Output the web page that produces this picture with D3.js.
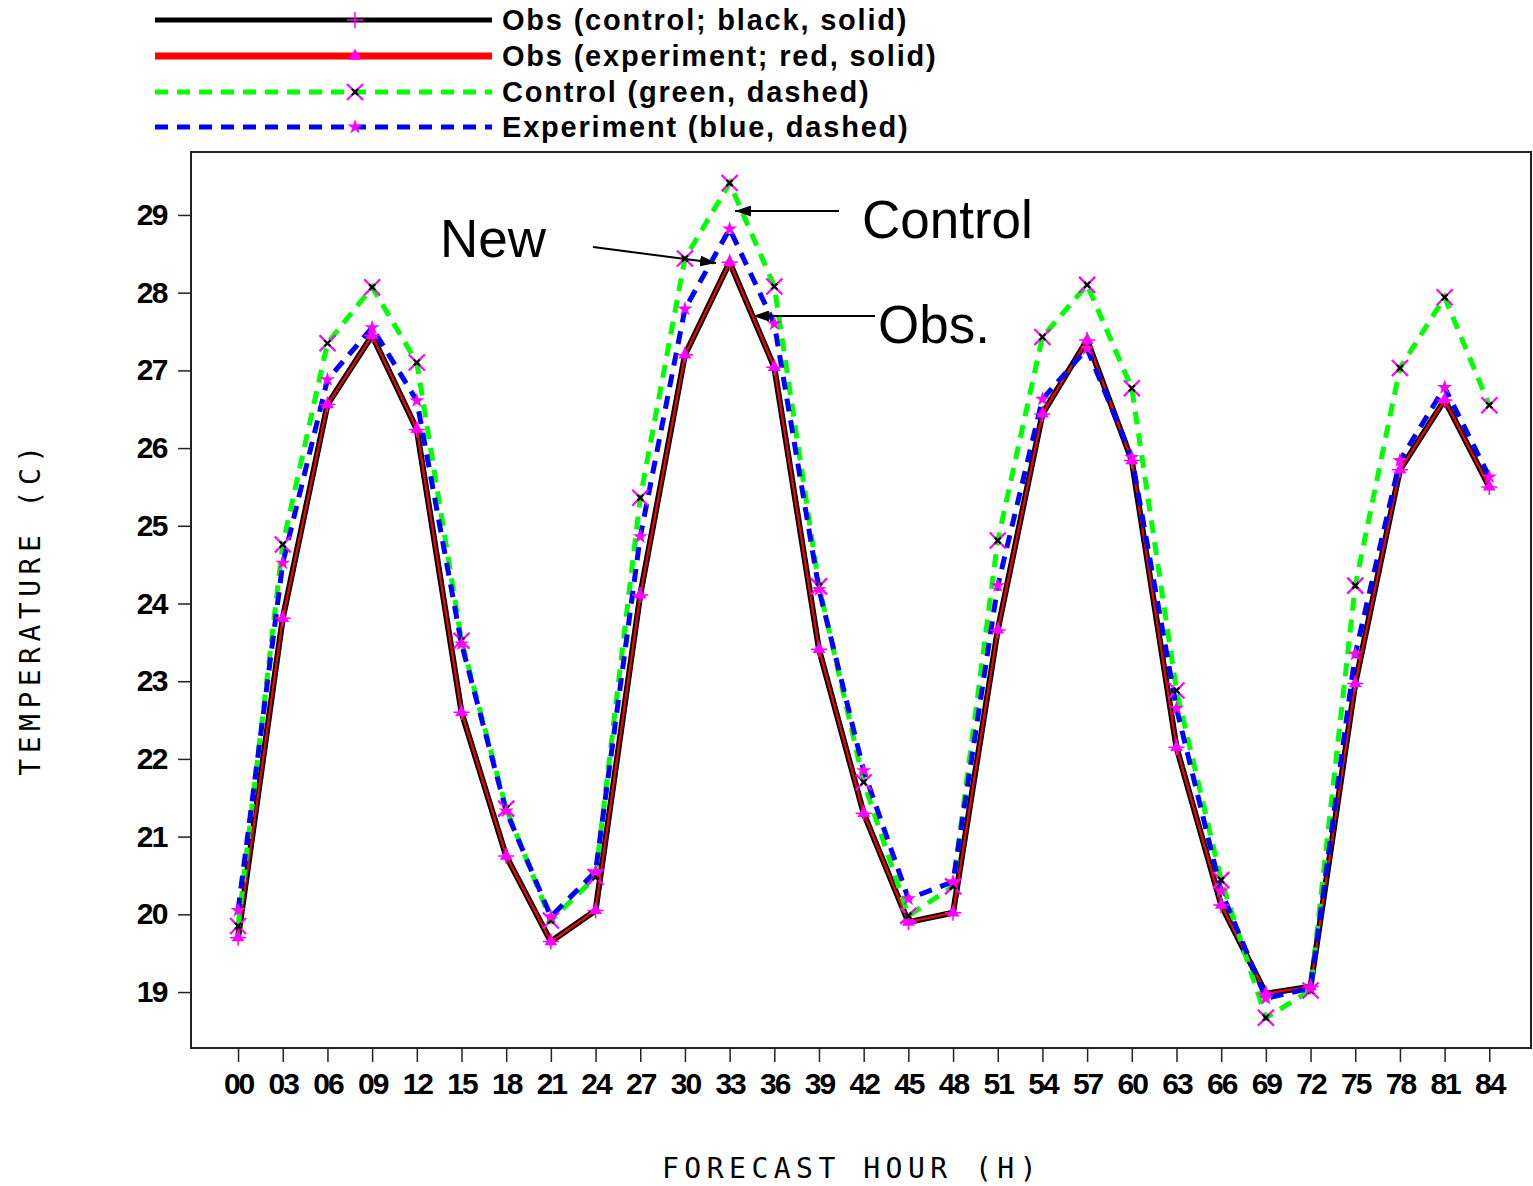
<!DOCTYPE html>
<html>
<head>
<meta charset="utf-8">
<script src="https://cdn.jsdelivr.net/npm/d3@7"></script>
<style>
  body { margin: 0; background: #fff; }
  svg { display: block; }
</style>
</head>
<body>
<svg id="chart" width="1533" height="1186"></svg>
<script>
// forecast hours (x) and temperatures (C) for each series
const hours = [0,3,6,9,12,15,18,21,24,27,30,33,36,39,42,45,48,51,54,57,60,63,66,69,72,75,78,81,84];
const obsControl = [19.70,23.81,26.56,27.45,26.24,22.60,20.75,19.65,20.05,24.11,27.20,28.39,27.04,23.41,21.30,19.90,20.02,23.66,26.44,27.39,25.84,22.15,20.12,18.98,19.07,22.97,25.72,26.62,25.50];
const obsExperiment = [19.70,23.81,26.56,27.45,26.24,22.60,20.75,19.65,20.05,24.11,27.20,28.39,27.04,23.41,21.30,19.90,20.02,23.66,26.44,27.39,25.84,22.15,20.12,18.98,19.07,22.97,25.72,26.62,25.50];
const control = [19.85,24.76,27.35,28.07,27.10,23.52,21.36,19.92,20.48,25.36,28.44,29.41,28.08,24.22,21.70,19.98,20.36,24.81,27.43,28.10,26.77,22.88,20.44,18.67,19.02,24.23,27.03,27.94,26.55];
const experiment = [20.05,24.52,26.88,27.55,26.61,23.48,21.33,19.97,20.55,24.86,27.79,28.82,27.60,24.18,21.85,20.20,20.42,24.23,26.63,27.28,25.88,22.65,20.30,18.92,19.05,23.35,25.84,26.78,25.63];
const yTicks = [19,20,21,22,23,24,25,26,27,28,29];
const legendLabels = ["Obs (control; black, solid)", "Obs (experiment; red, solid)", "Control (green, dashed)", "Experiment (blue, dashed)"];

const svg = d3.select("#chart");
const plotL = 191, plotR = 1531, plotT = 152, plotB = 1048;

const x = d3.scaleLinear().domain([-3.16, 86.8]).range([plotL, plotR]);
const y = d3.scaleLinear().domain([18.28, 29.81]).range([plotB, plotT]);

// frame
svg.append("rect")
  .attr("x", plotL).attr("y", plotT)
  .attr("width", plotR - plotL).attr("height", plotB - plotT)
  .attr("fill", "none").attr("stroke", "#222").attr("stroke-width", 2);

// y axis
const gy = svg.append("g").attr("transform", "translate(" + plotL + ",0)")
  .call(d3.axisLeft(y).tickValues(yTicks).tickSize(13).tickPadding(11).tickFormat(d3.format("d")));
gy.select(".domain").remove();
gy.selectAll("line").attr("stroke", "#222").attr("stroke-width", 1.5);
gy.selectAll("text")
  .attr("font-family", "Liberation Sans, Arial, sans-serif")
  .attr("font-weight", "bold").attr("font-size", 30)
  .attr("letter-spacing", -1.5).attr("fill", "#000");

// x axis
const gx = svg.append("g").attr("transform", "translate(0," + plotB + ")")
  .call(d3.axisBottom(x).tickValues(hours).tickSize(14).tickPadding(11).tickFormat(d3.format("02d")));
gx.select(".domain").remove();
gx.selectAll("line").attr("stroke", "#222").attr("stroke-width", 1.5);
gx.selectAll("text")
  .attr("font-family", "Liberation Sans, Arial, sans-serif")
  .attr("font-weight", "bold").attr("font-size", 30)
  .attr("letter-spacing", -2).attr("fill", "#000");

// axis titles
svg.append("text")
  .attr("x", 852).attr("y", 1178)
  .attr("text-anchor", "middle")
  .attr("font-family", "DejaVu Sans Mono, monospace")
  .attr("font-size", 28).attr("letter-spacing", 5.5)
  .text("FORECAST HOUR (H)");

svg.append("text")
  .attr("transform", "translate(40,608) rotate(-90)")
  .attr("text-anchor", "middle")
  .attr("font-family", "DejaVu Sans Mono, monospace")
  .attr("font-size", 28).attr("letter-spacing", 5.5)
  .text("TEMPERATURE (C)");

// markers
const magenta = "#ff00ff";
function marker(g, kind, cx, cy) {
  const m = g.append("g").attr("transform", "translate(" + cx + "," + cy + ")");
  if (kind === "plus") {
    m.append("path").attr("d", "M0,-8V8M-8,0H8").attr("stroke", magenta).attr("stroke-width", 1.5);
  } else if (kind === "tri") {
    m.append("path").attr("d", d3.symbol(d3.symbolTriangle, 70)()).attr("fill", magenta);
  } else if (kind === "cross") {
    m.append("path").attr("d", "M-8,-8L8,8M-8,8L8,-8").attr("stroke", magenta).attr("stroke-width", 2.2);
    m.append("path").attr("d", "M-3,-3L3,3M-3,3L3,-3").attr("stroke", "#000").attr("stroke-width", 2.2);
  } else if (kind === "star") {
    m.append("path").attr("d", d3.symbol(d3.symbolStar, 70)()).attr("fill", magenta);
  }
}

const series = [
  { values: obsControl, color: "#000", width: 6, dash: null, mk: "plus" },
  { values: obsExperiment, color: "#ff0000", width: 2.2, dash: null, mk: "tri" },
  { values: control, color: "#00ff00", width: 5, dash: "13,9", mk: "cross" },
  { values: experiment, color: "#0000ff", width: 5, dash: "13,9", mk: "star" }
];

const line = d3.line().x(d => x(d[0])).y(d => y(d[1]));

series.forEach(s => {
  const pts = hours.map((h, i) => [h, s.values[i]]);
  svg.append("path")
    .datum(pts)
    .attr("d", line)
    .attr("fill", "none")
    .attr("stroke", s.color)
    .attr("stroke-width", s.width)
    .attr("stroke-linejoin", "miter")
    .attr("stroke-dasharray", s.dash);
});
series.forEach(s => {
  const g = svg.append("g");
  hours.forEach((h, i) => marker(g, s.mk, x(h), y(s.values[i])));
});

// legend
const legY = [20, 56, 92, 127];
series.forEach((s, i) => {
  svg.append("line")
    .attr("x1", 155).attr("x2", 492)
    .attr("y1", legY[i]).attr("y2", legY[i])
    .attr("stroke", s.color)
    .attr("stroke-width", i === 1 ? 7 : 5)
    .attr("stroke-dasharray", s.dash);
  marker(svg.append("g"), s.mk, 355, legY[i]);
  svg.append("text")
    .attr("x", 502).attr("y", legY[i] + 10)
    .attr("font-family", "Liberation Sans, Arial, sans-serif")
    .attr("font-weight", "bold").attr("font-size", 29)
    .attr("letter-spacing", 1.8)
    .text(legendLabels[i]);
});

// annotations
svg.append("defs").append("marker")
  .attr("id", "arrow").attr("viewBox", "0 0 16 11")
  .attr("refX", 16).attr("refY", 5.5)
  .attr("markerWidth", 16).attr("markerHeight", 11)
  .attr("markerUnits", "userSpaceOnUse")
  .attr("orient", "auto")
  .append("path").attr("d", "M0,0L16,5.5L0,11Z").attr("fill", "#000");

const notes = [
  { text: "New", tx: 440, ty: 257, x1: 593, y1: 247, x2: 716, y2: 263 },
  { text: "Control", tx: 862, ty: 238, x1: 839, y1: 211, x2: 735, y2: 211 },
  { text: "Obs.", tx: 878, ty: 343, x1: 875, y1: 316, x2: 753, y2: 316 }
];
notes.forEach(n => {
  svg.append("line")
    .attr("x1", n.x1).attr("y1", n.y1).attr("x2", n.x2).attr("y2", n.y2)
    .attr("stroke", "#000").attr("stroke-width", 2)
    .attr("marker-end", "url(#arrow)");
  svg.append("text")
    .attr("x", n.tx).attr("y", n.ty)
    .attr("font-family", "Liberation Sans, Arial, sans-serif")
    .attr("font-size", 53)
    .text(n.text);
});
</script>
</body>
</html>
